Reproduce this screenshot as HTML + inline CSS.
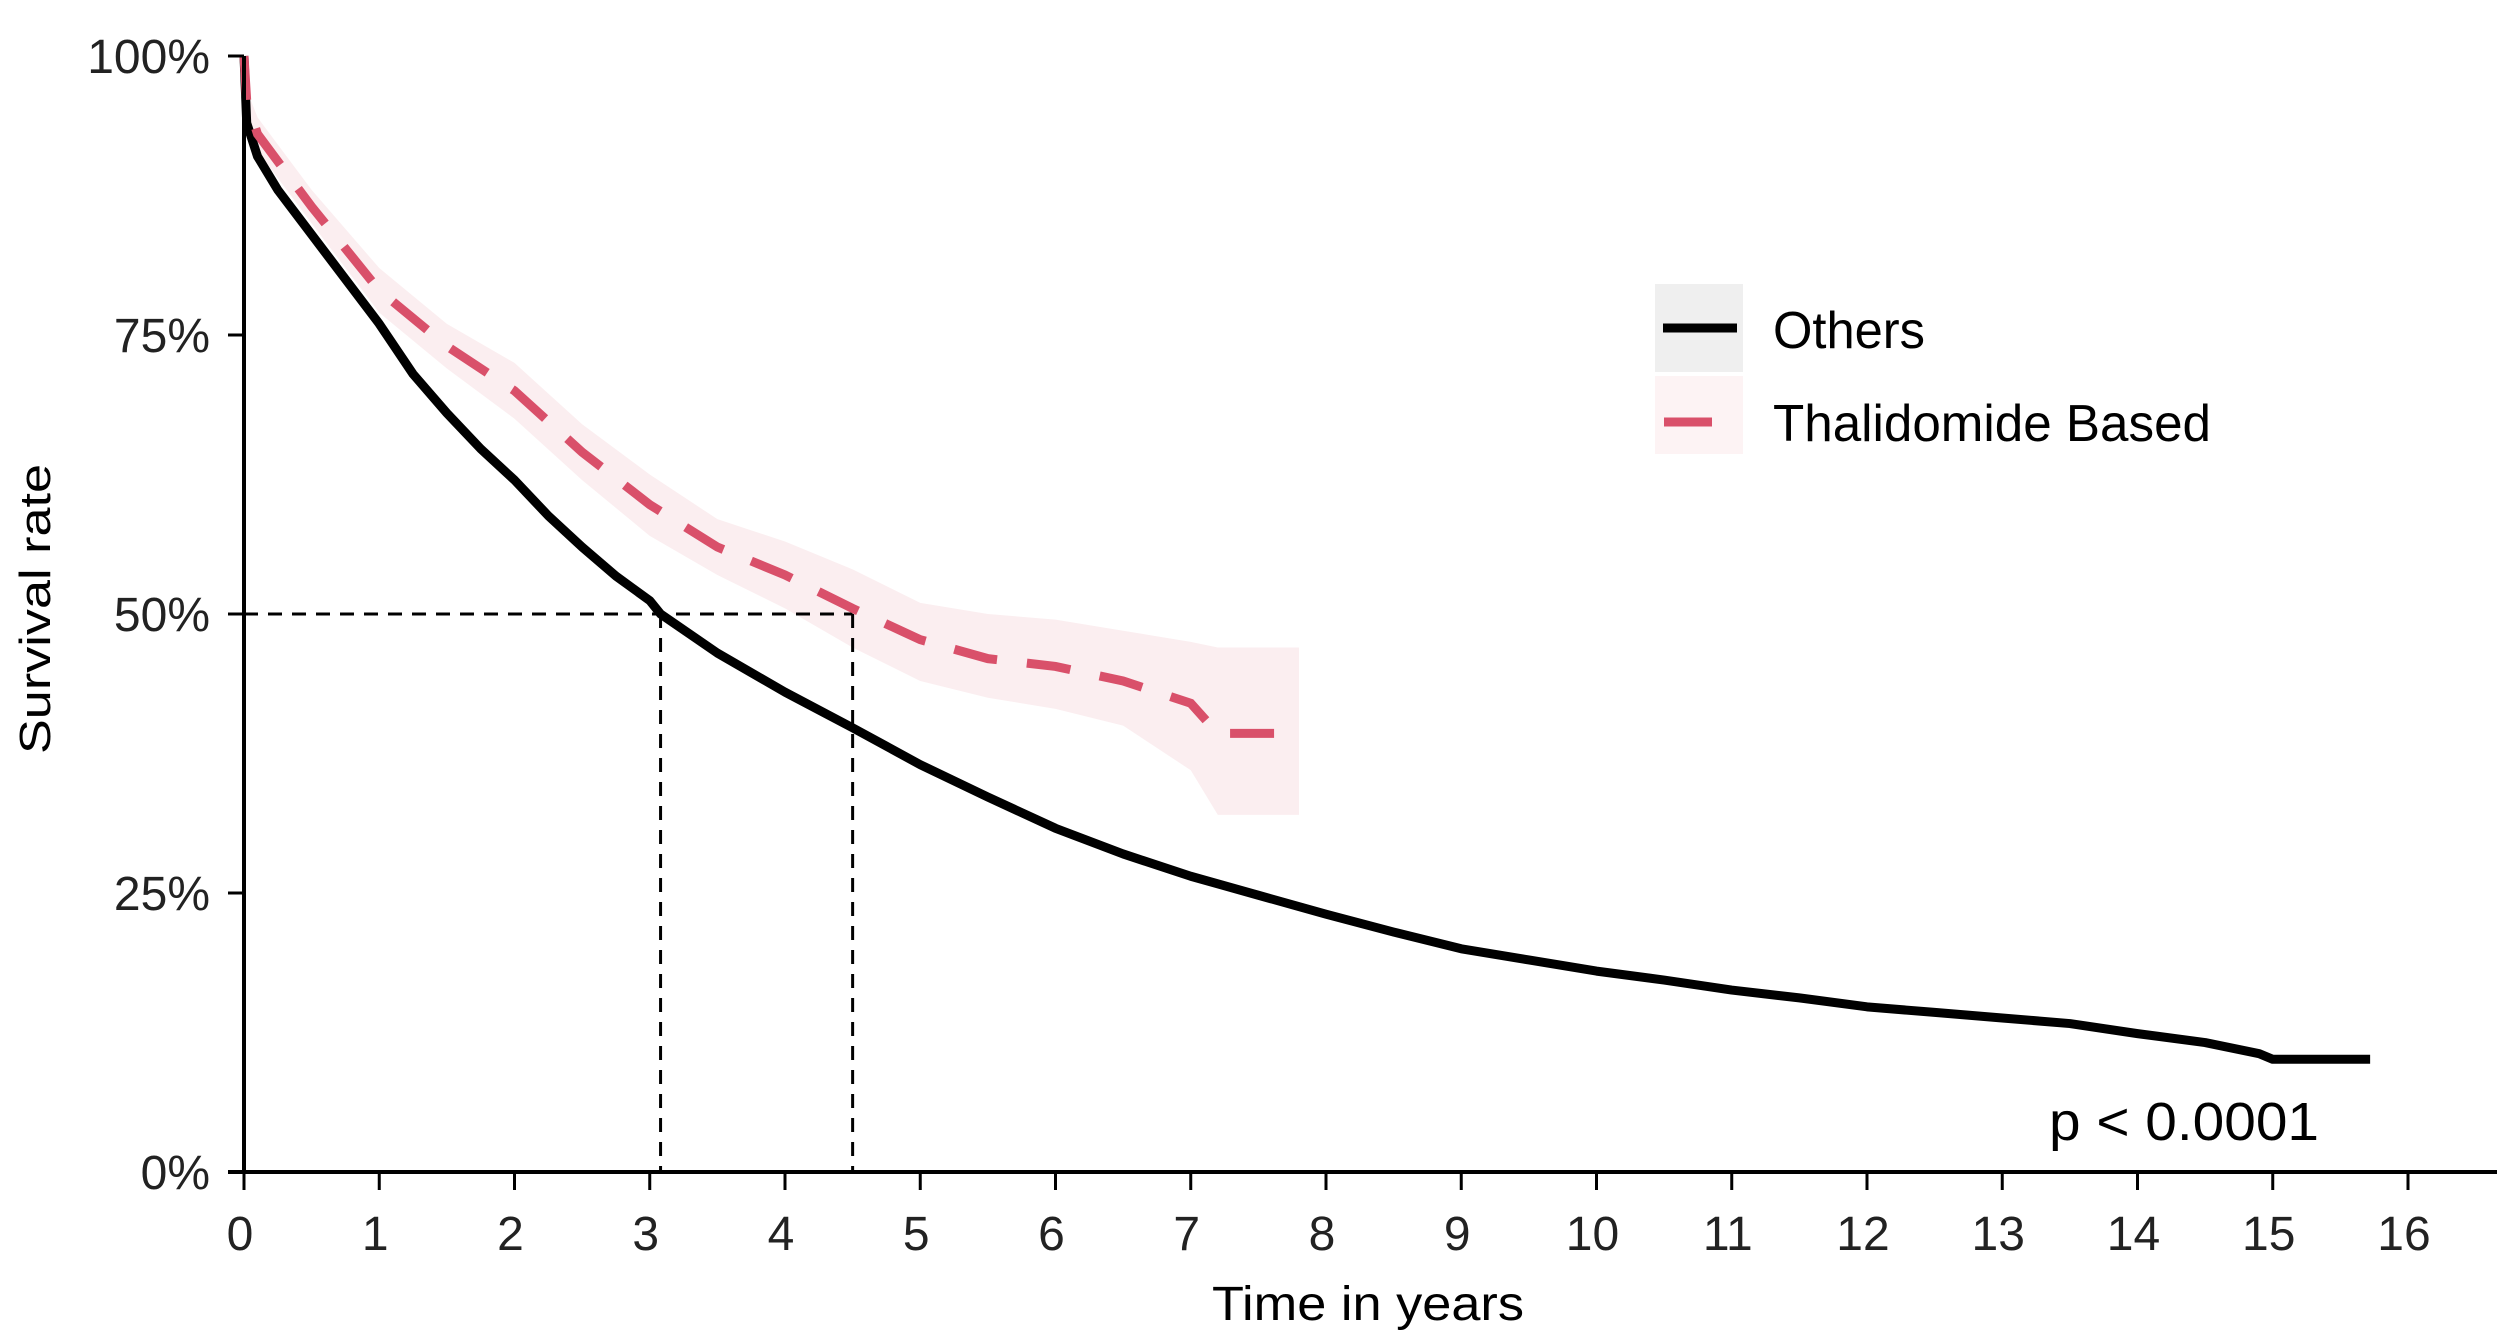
<!DOCTYPE html>
<html><head><meta charset="utf-8"><style>html,body{margin:0;padding:0;background:#fff}svg{display:block}</style></head>
<body>
<svg id="chart" width="2500" height="1342" viewBox="0 0 2500 1342" xmlns="http://www.w3.org/2000/svg" font-family="Liberation Sans, sans-serif">
<g id="bands"></g>
<g id="grid"></g>
<g id="series"></g>
<g id="axes"></g>
<g>
  <rect x="1655" y="284" width="88" height="88" fill="#efefef"/>
  <rect x="1655" y="376" width="88" height="78" fill="#fdf3f4"/>
  <line x1="1663" y1="328" x2="1737" y2="328" stroke="#000" stroke-width="9"/>
  <line x1="1664" y1="422" x2="1712" y2="422" stroke="#d9506a" stroke-width="9"/>
  <text x="1773" y="348" font-size="52" textLength="152" lengthAdjust="spacingAndGlyphs">Others</text>
  <text x="1773" y="441" font-size="52" textLength="438" lengthAdjust="spacingAndGlyphs">Thalidomide Based</text>
</g>
<text x="2049" y="1140" font-size="54" textLength="270" lengthAdjust="spacingAndGlyphs">p &lt; 0.0001</text>
<text transform="translate(50,609) rotate(-90)" text-anchor="middle" font-size="44" textLength="290" lengthAdjust="spacingAndGlyphs">Survival rate</text>
<text x="1368" y="1320" text-anchor="middle" font-size="48" textLength="312" lengthAdjust="spacingAndGlyphs">Time in years</text>
</svg>
<script>
const othersT = [0,0.02,0.1,0.25,0.5,0.75,1,1.25,1.5,1.75,2,2.25,2.5,2.75,3,3.08,3.5,4,4.5,5,5.5,6,6.5,7,7.5,8,8.5,9,9.5,10,10.5,11,11.5,12,12.5,13,13.5,14,14.5,14.9,15,15.72];
const othersS = [100,94,91,88,84,80,76,71.5,68,64.8,62,58.8,56,53.4,51.2,50,46.5,43,39.8,36.5,33.6,30.8,28.5,26.5,24.8,23.1,21.5,20,19,18,17.2,16.3,15.6,14.8,14.3,13.8,13.3,12.4,11.6,10.6,10.1,10.1];
const thalT = [0,0.02,0.1,0.5,1,1.5,2,2.5,3,3.5,4,4.5,5,5.5,6,6.5,7,7.2,7.8];
const thalS = [100,96,93,86.5,79,74,70,64.5,59.8,56,53.5,50.5,47.7,46,45.3,44,42,39.3,39.3];
const thalLo = [100,95,91.5,85,77,72,67.5,62,57,53.5,50.5,47,44,42.5,41.5,40,36,32,32];
const thalHi = [100,97,94.5,88,81,76,72.5,67,62.5,58.5,56.5,54,51,50,49.5,48.5,47.5,47,47];
const xTicks = [0,1,2,3,4,5,6,7,8,9,10,11,12,13,14,15,16];
const yTicks = [0,25,50,75,100];
const yTickLabels = ["0%","25%","50%","75%","100%"];
const medians = [3.08,4.5];

const NS="http://www.w3.org/2000/svg";
const X = t => 244 + t*135.25;
const Y = s => 1172 - s*11.16;
function mk(tag, attrs, parent){const e=document.createElementNS(NS,tag);for(const k in attrs)e.setAttribute(k,attrs[k]);parent.appendChild(e);return e;}
function linePath(ts, ss){let d=`M${X(ts[0])},${Y(ss[0])}`;for(let i=1;i<ts.length;i++){d+=` L${X(ts[i])},${Y(ss[i])}`;}return d;}

const bands=document.getElementById('bands');
let bd=`M${X(thalT[0])},${Y(thalHi[0])}`;
for(let i=1;i<thalT.length;i++) bd+=` L${X(thalT[i])},${Y(thalHi[i])}`;
for(let i=thalT.length-1;i>=0;i--) bd+=` L${X(thalT[i])},${Y(thalLo[i])}`;
const band=mk('path',{d:bd+'Z',fill:'#fbeef0'},bands);



const grid=document.getElementById('grid');
const hl=mk('line',{x1:X(0),y1:Y(50),x2:X(medians[1]),y2:Y(50),stroke:'#000','stroke-width':3,'stroke-dasharray':'14 10'},grid);


medians.forEach(m=>{
  const v=mk('line',{x1:X(m),y1:Y(50),x2:X(m),y2:Y(0),stroke:'#000','stroke-width':3,'stroke-dasharray':'14 10'},grid);
  
  
});

const series=document.getElementById('series');
const po=mk('path',{d:linePath(othersT,othersS),fill:'none',stroke:'#000','stroke-width':9,'stroke-linejoin':'round'},series);


const pt=mk('path',{d:linePath(thalT,thalS),fill:'none',stroke:'#d9506a','stroke-width':9,'stroke-dasharray':'44 30'},series);



const axes=document.getElementById('axes');
const ya=mk('line',{x1:X(0),y1:Y(100),x2:X(0),y2:Y(0),stroke:'#000','stroke-width':4},axes);


const xa=mk('line',{x1:228,y1:Y(0),x2:2497,y2:Y(0),stroke:'#000','stroke-width':4},axes);


yTicks.forEach((v,i)=>{
  const tk=mk('line',{x1:228,y1:Y(v),x2:X(0),y2:Y(v),stroke:'#000','stroke-width':3},axes);
  
  
  const tx=mk('text',{x:210,y:Y(v)+17,'text-anchor':'end','font-size':48,fill:'#222'},axes);
  tx.textContent=yTickLabels[i];
  
  
});
xTicks.forEach(v=>{
  const tk=mk('line',{x1:X(v),y1:Y(0),x2:X(v),y2:Y(0)+18,stroke:'#000','stroke-width':3},axes);
  
  
  const tx=mk('text',{x:X(v)-4,y:1250,'text-anchor':'middle','font-size':48,fill:'#222'},axes);
  tx.textContent=String(v);
  
  
});
</script>
</body></html>
